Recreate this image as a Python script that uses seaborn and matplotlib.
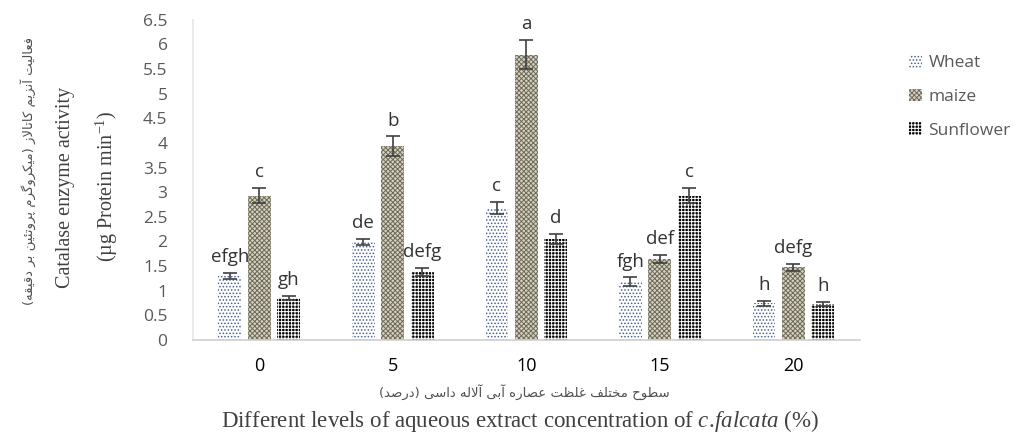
import numpy as np
import pandas as pd
import matplotlib
matplotlib.use("Agg")
import matplotlib.pyplot as plt
import seaborn as sns
from matplotlib.patches import Patch

# --- dados ---
levels = ["0", "5", "10", "15", "20"]
crops = ["Wheat", "maize", "Sunflower"]
wheat = [1.30, 1.99, 2.68, 1.18, 0.75]
maize = [2.93, 3.93, 5.79, 1.65, 1.48]
sunflower = [0.86, 1.38, 2.05, 2.93, 0.73]
wheat_err = [0.06, 0.07, 0.13, 0.09, 0.05]
maize_err = [0.15, 0.20, 0.29, 0.08, 0.07]
sunflower_err = [0.04, 0.08, 0.10, 0.15, 0.04]
wheat_lbl = ["efgh", "de", "c", "fgh", "h"]
maize_lbl = ["c", "b", "a", "def", "defg"]
sunflower_lbl = ["gh", "defg", "d", "c", "h"]

ylabel_fa = "فعالیت آنزیم کاتالاز (میکروگرم پروتئین بر دقیقه)"
xlabel_fa = "سطوح مختلف غلظت عصاره آبی آلاله داسی (درصد)"

# formas de apresentação árabes: isolada, final, inicial, medial
FORMS = {
    'ا': ('\uFE8D', '\uFE8E', None, None),
    'آ': ('\uFE81', '\uFE82', None, None),
    'ب': ('\uFE8F', '\uFE90', '\uFE91', '\uFE92'),
    'پ': ('\uFB56', '\uFB57', '\uFB58', '\uFB59'),
    'ت': ('\uFE95', '\uFE96', '\uFE97', '\uFE98'),
    'ح': ('\uFEA1', '\uFEA2', '\uFEA3', '\uFEA4'),
    'خ': ('\uFEA5', '\uFEA6', '\uFEA7', '\uFEA8'),
    'د': ('\uFEA9', '\uFEAA', None, None),
    'ر': ('\uFEAD', '\uFEAE', None, None),
    'ز': ('\uFEAF', '\uFEB0', None, None),
    'س': ('\uFEB1', '\uFEB2', '\uFEB3', '\uFEB4'),
    'ص': ('\uFEB9', '\uFEBA', '\uFEBB', '\uFEBC'),
    'ط': ('\uFEC1', '\uFEC2', '\uFEC3', '\uFEC4'),
    'ظ': ('\uFEC5', '\uFEC6', '\uFEC7', '\uFEC8'),
    'ع': ('\uFEC9', '\uFECA', '\uFECB', '\uFECC'),
    'غ': ('\uFECD', '\uFECE', '\uFECF', '\uFED0'),
    'ف': ('\uFED1', '\uFED2', '\uFED3', '\uFED4'),
    'ق': ('\uFED5', '\uFED6', '\uFED7', '\uFED8'),
    'ک': ('\uFB8E', '\uFB8F', '\uFB90', '\uFB91'),
    'گ': ('\uFB92', '\uFB93', '\uFB94', '\uFB95'),
    'ل': ('\uFEDD', '\uFEDE', '\uFEDF', '\uFEE0'),
    'م': ('\uFEE1', '\uFEE2', '\uFEE3', '\uFEE4'),
    'ن': ('\uFEE5', '\uFEE6', '\uFEE7', '\uFEE8'),
    'ه': ('\uFEE9', '\uFEEA', '\uFEEB', '\uFEEC'),
    'و': ('\uFEED', '\uFEEE', None, None),
    'ی': ('\uFBFC', '\uFBFD', '\uFBFE', '\uFBFF'),
    'ئ': ('\uFE89', '\uFE8A', '\uFE8B', '\uFE8C'),
}
LAM_ALEF = {'ا': ('\uFEFB', '\uFEFC'), 'آ': ('\uFEF5', '\uFEF6')}


def shape_fa(text):
    """Liga as letras persas e devolve o texto em ordem visual."""
    def dual(c):
        return c in FORMS and FORMS[c][2] is not None
    out = []
    i = 0
    while i < len(text):
        c = text[i]
        if c not in FORMS:
            out.append(c)
            i += 1
            continue
        link_prev = i > 0 and dual(text[i - 1])
        if c == 'ل' and i + 1 < len(text) and text[i + 1] in LAM_ALEF:
            iso, fin = LAM_ALEF[text[i + 1]]
            out.append(fin if link_prev else iso)
            i += 2
            continue
        nxt = text[i + 1] if i + 1 < len(text) else ''
        link_next = dual(c) and nxt in FORMS
        iso, fin, ini, med = FORMS[c]
        if link_prev and link_next:
            out.append(med)
        elif link_prev:
            out.append(fin)
        elif link_next:
            out.append(ini)
        else:
            out.append(iso)
        i += 1
    return ''.join(reversed(out)).translate(str.maketrans('()', ')('))


sns.set_theme(style="white")
plt.rcParams['mathtext.fontset'] = 'custom'
plt.rcParams['mathtext.rm'] = 'Liberation Serif'
plt.rcParams['mathtext.it'] = 'Liberation Serif:italic'
plt.rcParams['font.family'] = ['Open Sans', 'DejaVu Sans']
plt.rcParams['hatch.linewidth'] = 0.7

df = pd.DataFrame({
    'level': levels * 3,
    'crop': [c for c in crops for _ in levels],
    'value': wheat + maize + sunflower,
})

fig = plt.figure(figsize=(10.24, 4.36), dpi=100)
ax = fig.add_axes([0.188, 0.22, 0.652, 0.735])

sns.barplot(data=df, x='level', y='value', hue='crop', order=levels,
            hue_order=crops, errorbar=None, width=0.66, gap=0.22,
            legend=False, ax=ax)

styles = [
    dict(facecolor='white', edgecolor='#4a5f8c', hatch='.....'),
    dict(facecolor='#d6d1bf', edgecolor='#6e6a5a', hatch='xxxxxxx'),
    dict(facecolor='black', edgecolor='white', hatch='+++++'),
]
errs = [wheat_err, maize_err, sunflower_err]
lbls = [wheat_lbl, maize_lbl, sunflower_lbl]

for cont, st, err, lab in zip(ax.containers, styles, errs, lbls):
    xs, hs = [], []
    for bar in cont:
        bar.set_facecolor(st['facecolor'])
        bar.set_edgecolor(st['edgecolor'])
        bar.set_hatch(st['hatch'])
        bar.set_linewidth(0)
        xs.append(bar.get_x() + bar.get_width() / 2)
        hs.append(bar.get_height())
    ax.errorbar(xs, hs, yerr=err, fmt='none', ecolor='#404040',
                elinewidth=1.2, capsize=5, capthick=1.2)
    for x, h, e, t in zip(xs, hs, err, lab):
        ax.annotate(t, (x, h + e), xytext=(0, 5), textcoords='offset points',
                    ha='center', va='bottom', fontsize=13.5, color='#333333')

ax.set_ylim(0, 6.5)
ax.set_xlim(-0.5, len(levels) - 0.5)
ax.set_yticks(np.arange(0, 6.51, 0.5))
ax.set_yticklabels([f"{v:g}" for v in np.arange(0, 6.51, 0.5)])
ax.tick_params(axis='y', length=0, labelsize=12.5, labelcolor='#595959', pad=18)
ax.tick_params(axis='x', which='major', length=0, labelsize=13,
               labelcolor='black', pad=12)
ax.set_xticks(np.arange(-0.5, len(levels), 1.0), minor=True)
ax.tick_params(axis='x', which='minor', length=5, color='#d0d0d0', width=1)

for s in ['top', 'right']:
    ax.spines[s].set_visible(False)
ax.spines['left'].set_color('#e6e6e6')
ax.spines['bottom'].set_color('#d0d0d0')
ax.spines['bottom'].set_linewidth(1.2)
ax.set_xlabel('')
ax.set_ylabel('')

# rótulos dos eixos
fig.text(0.027, 0.607, shape_fa(ylabel_fa), rotation=90, ha='center',
         va='center', fontsize=9.5, color='#505050', family='DejaVu Sans')
fig.text(0.064, 0.570, 'Catalase enzyme activity', rotation=90, ha='center',
         va='center', fontsize=14.5, color='#404040', family='Liberation Serif')
fig.text(0.104, 0.573, r'(µg Protein min$^{-1}$)', rotation=90, ha='center',
         va='center', fontsize=14.5, color='#404040', family='Liberation Serif')
fig.text(0.512, 0.100, shape_fa(xlabel_fa), ha='center', va='center',
         fontsize=9.5, color='#505050', family='DejaVu Sans')
fig.text(0.508, 0.035,
         r'Different levels of aqueous extract concentration of $c.\!falcata$ (%)',
         ha='center', va='center', fontsize=16.5, color='#404040',
         family='Liberation Serif')

handles = [Patch(facecolor=st['facecolor'], edgecolor=st['edgecolor'],
                 hatch=st['hatch'], linewidth=0) for st in styles]
leg = fig.legend(handles, crops, loc='upper left', bbox_to_anchor=(0.872, 0.91),
                 frameon=False, fontsize=12.5, handlelength=0.75,
                 handleheight=0.75, handletextpad=0.4, labelspacing=1.0)
for t in leg.get_texts():
    t.set_color('#595959')

fig.savefig('out.png', dpi=100)
